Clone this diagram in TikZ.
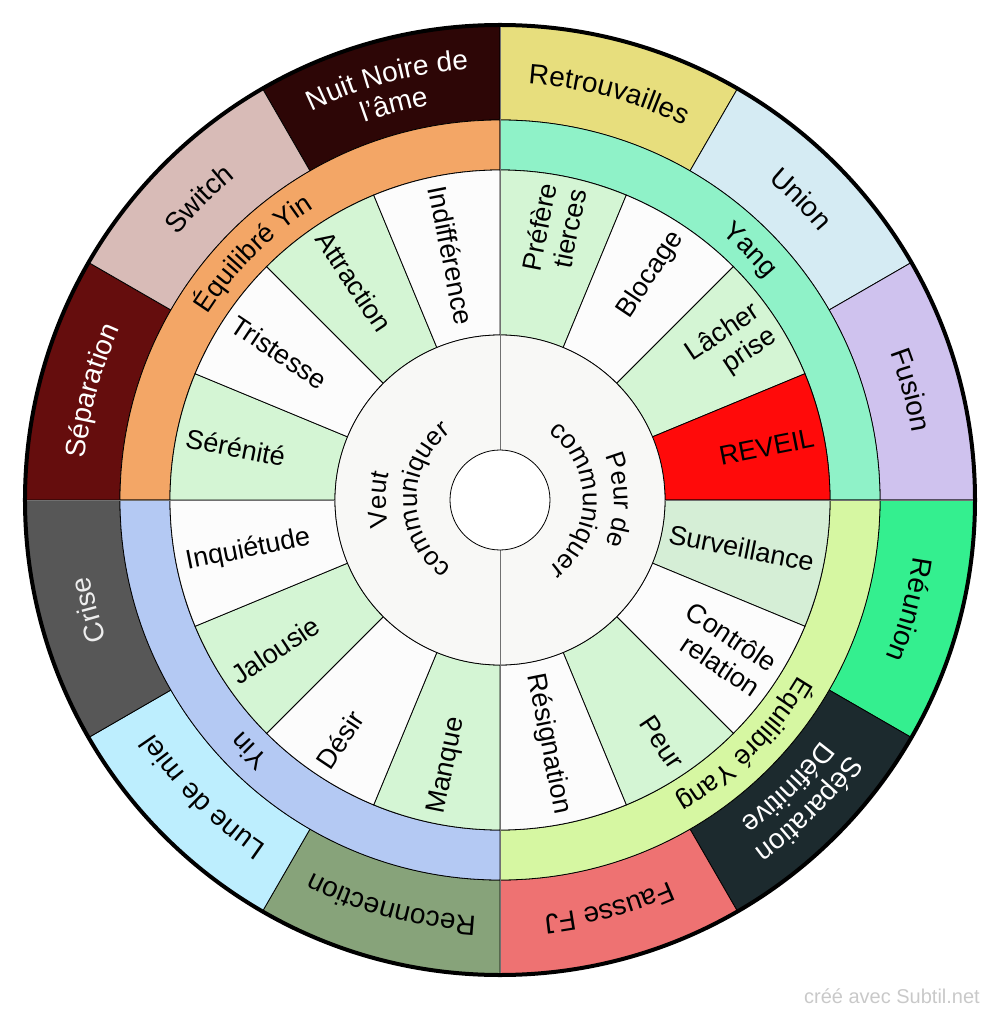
\documentclass[tikz,border=0pt]{standalone}
\usepackage{fontspec}
\setmainfont{Liberation Sans}
\usetikzlibrary{decorations.text}
% outer ring colours
\definecolor{cNuit}{HTML}{2D0606}
\definecolor{cRetro}{HTML}{E7DE7D}
\definecolor{cUnion}{HTML}{D5EBF3}
\definecolor{cFusion}{HTML}{CFC2EE}
\definecolor{cReunion}{HTML}{34EF8F}
\definecolor{cSepDef}{HTML}{1C2A2E}
\definecolor{cFausse}{HTML}{EE7272}
\definecolor{cRecon}{HTML}{87A37A}
\definecolor{cLune}{HTML}{BDEEFE}
\definecolor{cCrise}{HTML}{575757}
\definecolor{cSep}{HTML}{650D0D}
\definecolor{cSwitch}{HTML}{D8BBB7}
% middle ring colours
\definecolor{cEqYin}{HTML}{F3A666}
\definecolor{cYang}{HTML}{8FF2C8}
\definecolor{cEqYang}{HTML}{D6F7A2}
\definecolor{cYin}{HTML}{B4C9F3}
% segments
\definecolor{cGreen}{HTML}{D4F5D4}
\definecolor{cGreenB}{HTML}{D5EED6}
\definecolor{cWhite}{HTML}{FCFCFC}
\definecolor{cRed}{HTML}{FF0A0A}
\definecolor{cCenter}{HTML}{F8F8F6}
\definecolor{cAxis}{HTML}{707070}
\definecolor{cWm}{HTML}{C9C9C9}
\definecolor{cLight}{HTML}{EEEEEE}

\tikzset{
  ringline/.style={draw=black, line width=0.8pt},
  seglabel/.style={font=\fontsize{27}{30}\selectfont, inner sep=0pt, text=black},
  axisline/.style={draw=cAxis, line width=1pt},
}

% annular sector: start angle, end angle, inner radius, outer radius, fill
\newcommand\annsec[5]{%
  \path[ringline, fill=#5] (#1:#3) -- (#1:#4)
    arc[start angle=#1, end angle=#2, radius=#4] -- (#2:#3)
    arc[start angle=#2, end angle=#1, radius=#3] -- cycle;}

% text along a clockwise arc: angle, radius, size, colour, text
\newcommand\arclabel[5]{%
  \path[decorate, decoration={text along path, text align=center,
      text color=#4, text={|\fontsize{#3}{#3}\selectfont|#5}}]
    (#1+70:#2) arc[start angle=#1+70, end angle=#1-70, radius=#2];}

\begin{document}
\begin{tikzpicture}
\useasboundingbox (-500pt,-517pt) rectangle (500pt,500pt);
\coordinate (O) at (0pt,0pt);

% ---- outer ring
\annsec{90}{120}{380pt}{475pt}{cNuit}
\annsec{60}{90}{380pt}{475pt}{cRetro}
\annsec{30}{60}{380pt}{475pt}{cUnion}
\annsec{0}{30}{380pt}{475pt}{cFusion}
\annsec{-30}{0}{380pt}{475pt}{cReunion}
\annsec{-60}{-30}{380pt}{475pt}{cSepDef}
\annsec{-90}{-60}{380pt}{475pt}{cFausse}
\annsec{-120}{-90}{380pt}{475pt}{cRecon}
\annsec{-150}{-120}{380pt}{475pt}{cLune}
\annsec{-180}{-150}{380pt}{475pt}{cCrise}
\annsec{150}{180}{380pt}{475pt}{cSep}
\annsec{120}{150}{380pt}{475pt}{cSwitch}

% ---- middle ring
\annsec{90}{180}{330pt}{380pt}{cEqYin}
\annsec{0}{90}{330pt}{380pt}{cYang}
\annsec{-90}{0}{330pt}{380pt}{cEqYang}
\annsec{180}{270}{330pt}{380pt}{cYin}

% ---- segments
\annsec{67.5}{90}{165pt}{330pt}{cGreen}
\annsec{45}{67.5}{165pt}{330pt}{cWhite}
\annsec{22.5}{45}{165pt}{330pt}{cGreen}
\annsec{0}{22.5}{165pt}{330pt}{cRed}
\annsec{-22.5}{0}{165pt}{330pt}{cGreenB}
\annsec{-45}{-22.5}{165pt}{330pt}{cWhite}
\annsec{-67.5}{-45}{165pt}{330pt}{cGreen}
\annsec{-90}{-67.5}{165pt}{330pt}{cWhite}
\annsec{247.5}{270}{165pt}{330pt}{cGreen}
\annsec{225}{247.5}{165pt}{330pt}{cWhite}
\annsec{202.5}{225}{165pt}{330pt}{cGreen}
\annsec{180}{202.5}{165pt}{330pt}{cWhite}
\annsec{157.5}{180}{165pt}{330pt}{cGreen}
\annsec{135}{157.5}{165pt}{330pt}{cWhite}
\annsec{112.5}{135}{165pt}{330pt}{cGreen}
\annsec{90}{112.5}{165pt}{330pt}{cWhite}

% ---- centre
\path[ringline, fill=cCenter] (O) circle[radius=165pt];
\path[axisline] (90:50pt) -- (90:475pt);
\path[axisline] (270:50pt) -- (270:475pt);
\path[axisline] (0:165pt) -- (0:475pt);
\path[axisline] (180:165pt) -- (180:475pt);
\path[ringline, fill=white] (O) circle[radius=50pt];
\path[draw=black, line width=4pt] (O) circle[radius=475pt];

% ---- outer labels
\arclabel{105}{432pt}{28}{white}{Nuit Noire de}
\arclabel{105}{401pt}{28}{white}{l’âme}
\arclabel{75}{417pt}{28}{black}{Retrouvailles}
\arclabel{45}{417pt}{28}{black}{Union}
\arclabel{15}{417pt}{28}{black}{Fusion}
\arclabel{-15}{417pt}{28}{black}{Réunion}
\arclabel{-45}{432pt}{28}{white}{Séparation}
\arclabel{-45}{401pt}{28}{white}{Définitive}
\arclabel{-75}{417pt}{28}{black}{Fausse FJ}
\arclabel{-105}{417pt}{28}{black}{Reconnection}
\arclabel{-135}{417pt}{28}{black}{Lune de miel}
\arclabel{-165}{417pt}{28}{cLight}{Crise}
\arclabel{165}{417pt}{28}{white}{Séparation}
\arclabel{135}{417pt}{28}{black}{Switch}

% ---- middle labels
\arclabel{135}{346pt}{27}{black}{Équilibré Yin}
\arclabel{45}{346pt}{27}{black}{Yang}
\arclabel{-45}{346pt}{27}{black}{Équilibré Yang}
\arclabel{-135}{346pt}{27}{black}{Yin}

% ---- centre labels
\arclabel{180}{114pt}{26}{black}{Veut}
\arclabel{180}{83pt}{26}{black}{communiquer}
\arclabel{0}{114pt}{26}{black}{Peur de}
\arclabel{0}{83pt}{26}{black}{communiquer}

% ---- segment labels (right half)
\node[seglabel, anchor=east, align=right, rotate=78.75] (lPref) at (78.75:320pt) {Préfère\\tierces};
\node[seglabel, anchor=east, align=right, rotate=56.25] (lBloc) at (56.25:320pt) {Blocage};
\node[seglabel, anchor=east, align=right, rotate=33.75] (lLach) at (33.75:320pt) {Lâcher\\prise};
\node[seglabel, anchor=east, align=right, rotate=11.25] (lRev) at (11.25:320pt) {REVEIL};
\node[seglabel, anchor=east, align=right, rotate=-11.25] (lSurv) at (-11.25:320pt) {Surveillance};
\node[seglabel, anchor=east, align=right, rotate=-33.75] (lCont) at (-33.75:320pt) {Contrôle\\relation};
\node[seglabel, anchor=east, align=right, rotate=-56.25] (lPeur) at (-56.25:320pt) {Peur};
\node[seglabel, anchor=east, align=right, rotate=-78.75] (lResi) at (-78.75:320pt) {Résignation};
% ---- segment labels (left half)
\node[seglabel, anchor=west, align=left, rotate=78.75] (lManq) at (258.75:320pt) {Manque};
\node[seglabel, anchor=west, align=left, rotate=56.25] (lDesi) at (236.25:320pt) {Désir};
\node[seglabel, anchor=west, align=left, rotate=33.75] (lJalo) at (213.75:320pt) {Jalousie};
\node[seglabel, anchor=west, align=left, rotate=11.25] (lInqu) at (191.25:320pt) {Inquiétude};
\node[seglabel, anchor=west, align=left, rotate=-11.25] (lSere) at (168.75:320pt) {Sérénité};
\node[seglabel, anchor=west, align=left, rotate=-33.75] (lTris) at (146.25:320pt) {Tristesse};
\node[seglabel, anchor=west, align=left, rotate=-56.25] (lAttr) at (123.75:320pt) {Attraction};
\node[seglabel, anchor=west, align=left, rotate=-78.75] (lIndi) at (101.25:320pt) {Indifférence};

% ---- credit
\node[font=\fontsize{20}{24}\selectfont, text=cWm, anchor=base east, inner sep=0pt] (credit) at (480pt,-503pt) {créé avec Subtil.net};
\end{tikzpicture}
\end{document}
